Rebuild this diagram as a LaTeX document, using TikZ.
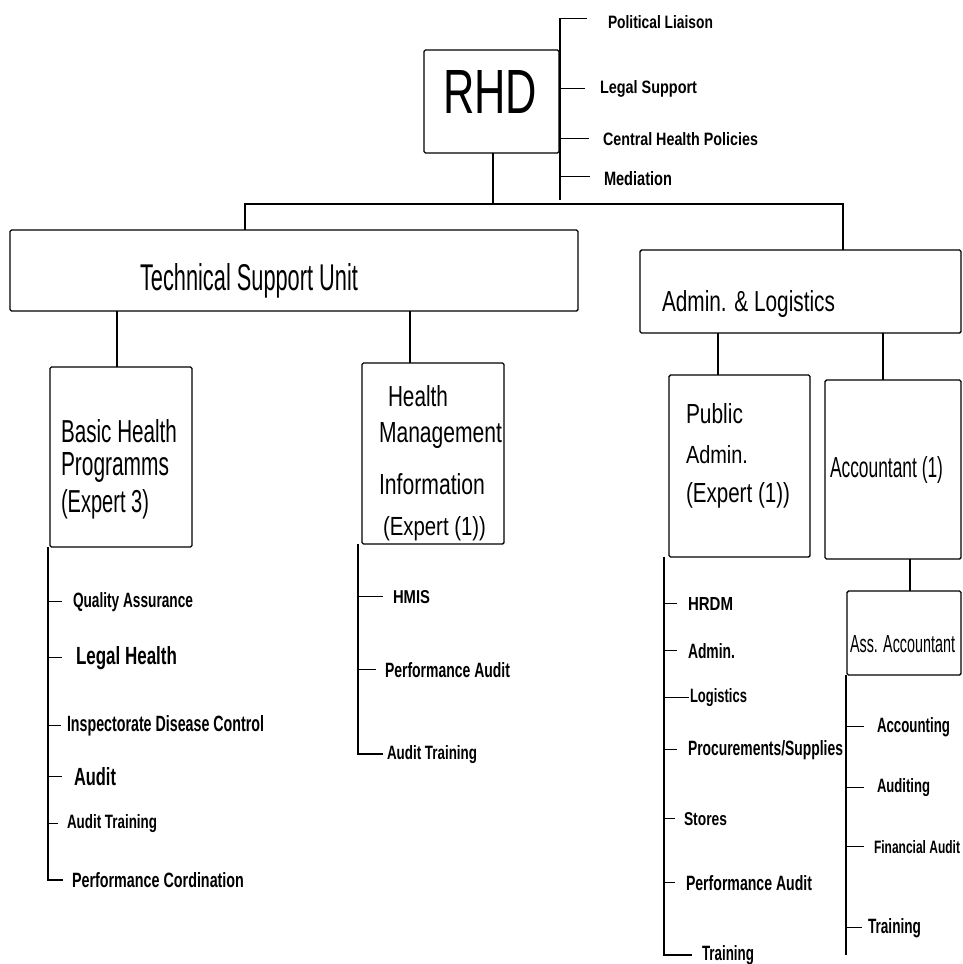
\documentclass[tikz,border=0pt]{standalone}
\usepackage{fontspec}
\setmainfont{Liberation Sans}
\usepackage{graphicx}
\usetikzlibrary{calc}

% text squeezed to a given width and cap height (narrow look of the chart lettering)
\newcommand\fitt[3]{\resizebox{#1pt}{#2pt}{#3}}
% label: name, x, baseline y, width, height, text
\newcommand\lab[6]{\node[lab] (#1) at (#2,#3) {\fitt{#4}{#5}{#6}};}
\newcommand\labb[6]{\node[lab] (#1) at (#2,#3) {\fitt{#4}{#5}{\bfseries #6}};}
% unit box: name, left, top, right, bottom
\newcommand\unitbox[5]{\node[unit, minimum width={#4-#2}, minimum height={#5-#3}] (#1) at ({(#2+#4)/2},{(#3+#5)/2}) {};}

\begin{document}
\begin{tikzpicture}[x=1pt,y=-1pt,
  lab/.style={anchor=base west, inner sep=0pt, outer sep=0pt},
  unit/.style={draw, line width=1.4pt, rounded corners=1.5pt, inner sep=0pt, outer sep=0pt},
  stem/.style={line width=2.4pt},
  trunk/.style={line width=2pt},
  tick/.style={line width=1pt}]
\fill[white] (0,0) rectangle (963,964);
\useasboundingbox (0,0) rectangle (963,964);
\clip (0,0) rectangle (963,964);

% ---- boxes
\unitbox{rhd}{424}{50}{559}{153}
\unitbox{tsu}{10}{230}{578}{311}
\unitbox{adm}{640}{250}{961}{333}
\unitbox{bhp}{50}{367}{192}{547}
\unitbox{hmi}{362}{363}{504}{544}
\unitbox{pub}{669}{375}{810}{557}
\unitbox{acc}{825}{380}{961}{559}
\unitbox{ass}{847}{591}{961}{675}

% ---- box texts
\lab{rhdt}{443}{113}{94}{43}{RHD}
\lab{tsut}{140}{290}{218}{27}{Technical Support Unit}
\lab{admt}{662}{311}{173}{21}{Admin. \& Logistics}
\lab{bhpa}{61}{442}{116}{23}{Basic Health}
\lab{bhpb}{61}{475}{108}{23}{Programms}
\lab{bhpc}{61}{512}{88}{23}{(Expert 3)}
\lab{hmia}{388}{406}{60}{21}{Health}
\lab{hmib}{379}{442}{123}{20}{Management}
\lab{hmic}{379}{494}{106}{21}{Information}
\lab{hmid}{383}{535}{103}{19}{(Expert (1))}
\lab{puba}{686}{423}{57}{20}{Public}
\lab{pubb}{686}{463}{62}{18}{Admin.}
\lab{pubc}{686}{502}{104}{20}{(Expert (1))}
\lab{acct}{830}{477}{113}{21}{Accountant (1)}
\lab{asst}{850}{652}{105}{17}{Ass. Accountant}

% ---- side duties of RHD
\labb{pl}{608}{28}{105}{13}{Political Liaison}
\labb{ls}{600}{93}{97}{13}{Legal Support}
\labb{chp}{603}{145}{155}{13}{Central Health Policies}
\labb{med}{604}{185}{68}{14}{Mediation}

% ---- duties lists
\labb{qa}{73}{607}{120}{15}{Quality Assurance}
\labb{lh}{76}{664}{101}{18}{Legal Health}
\labb{idc}{67}{731}{197}{16}{Inspectorate Disease Control}
\labb{au}{74}{785}{42}{18}{Audit}
\labb{ata}{67}{828}{90}{14}{Audit Training}
\labb{pc}{72}{887}{172}{15}{Performance Cordination}

\labb{hmis}{393}{603}{37}{13}{HMIS}
\labb{paa}{385}{677}{125}{15}{Performance Audit}
\labb{atb}{387}{759}{90}{14}{Audit Training}

\labb{hrdm}{688}{610}{45}{13}{HRDM}
\labb{admb}{688}{658}{47}{15}{Admin.}
\labb{log}{690}{702}{57}{14}{Logistics}
\labb{proc}{688}{755}{155}{15}{Procurements/Supplies}
\labb{sto}{684}{825}{43}{13}{Stores}
\labb{pab}{686}{890}{126}{15}{Performance Audit}
\labb{tra}{702}{960}{52}{15}{Training}

\labb{acg}{877}{732}{73}{15}{Accounting}
\labb{aud}{877}{792}{53}{14}{Auditing}
\labb{fa}{874}{853}{86}{13}{Financial Audit}
\labb{trb}{868}{933}{53}{15}{Training}

% ---- hierarchy connectors
\coordinate (barL) at (245,204);
\coordinate (barR) at (843,204);
\draw[stem] (rhd.south) ++(1.5,0) -- ++(0,51);
\draw[stem] (tsu.north -| barL) -- (barL) -- (barR) -- (adm.north -| barR);
\draw[stem] ($(bhp.north west)+(67,0)$) -- ($(bhp.north west |- tsu.south)+(67,0)$);
\draw[stem] ($(hmi.north west)+(48,0)$) -- ($(hmi.north west |- tsu.south)+(48,0)$);
\draw[stem] ($(pub.north west)+(49,0)$) -- ($(pub.north west |- adm.south)+(49,0)$);
\draw[stem] ($(acc.north west)+(58,0)$) -- ($(acc.north west |- adm.south)+(58,0)$);
\draw[stem] ($(ass.north west)+(63,0)$) -- ($(ass.north west |- acc.south)+(63,0)$);

% ---- RHD side line and its ticks
\draw[trunk] ($(rhd.north east)+(1,-32)$) -- ($(rhd.south east)+(1,47)$);
\draw[tick] (pl.west -| rhd.east) ++(0,-3) -- ++(28,0);
\draw[tick] (ls.west -| rhd.east) -- ++(26,0);
\draw[tick] (chp.west -| rhd.east) -- ++(30,0);
\draw[tick] (med.west -| rhd.east) ++(0,-2) -- ++(31,0);

% ---- Basic Health Programms duties
\coordinate (bt) at ($(bhp.south west)+(-2,0)$);
\draw[trunk] (bt) -- (bt |- pc.west) -- ++(15,0);
\foreach \n/\l in {qa/14, lh/14, idc/13, au/14, ata/10}
  \draw[tick] (bt |- \n.west) -- ++(\l,0);

% ---- Health Management Information duties
\coordinate (ht) at ($(hmi.south west)+(-4,0)$);
\draw[trunk] (ht) -- (ht |- atb.west) -- ++(25,0);
\foreach \n/\l in {hmis/25, paa/18}
  \draw[tick] (ht |- \n.west) -- ++(\l,0);

% ---- Public Admin. duties
\coordinate (pt) at ($(pub.south west)+(-5,0)$);
\draw[trunk] (pt) -- (pt |- tra.west) -- ++(28,0);
\foreach \n/\l in {hrdm/13, admb/13, log/25, proc/13, sto/11, pab/11}
  \draw[tick] (pt |- \n.west) -- ++(\l,0);

% ---- Ass. Accountant duties
\coordinate (at) at ($(ass.south west)+(-1,0)$);
\draw[trunk] (at) -- ($(at |- trb.west)+(0,27)$);
\foreach \n/\l in {acg/18, aud/18, fa/18, trb/16}
  \draw[tick] (at |- \n.west) -- ++(\l,0);
\end{tikzpicture}
\end{document}
